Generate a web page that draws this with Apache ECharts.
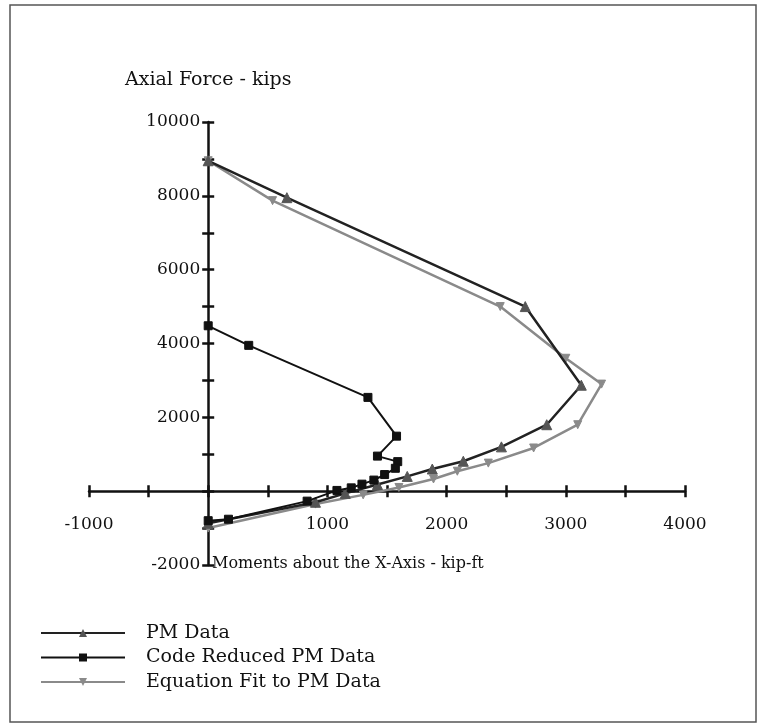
<!DOCTYPE html>
<html>
<head>
<meta charset="utf-8">
<title>PM Interaction</title>
<script src="https://cdn.jsdelivr.net/npm/echarts@6/dist/echarts.min.js"></script>
<style>
    html, body { margin: 0; padding: 0; background: #fff; }
    #chart { width: 770px; height: 728px; }
</style>
</head>
<body>
<div id="chart"></div>
<script>
    // moments (kip-ft) and axial force (kips)
    var pmMoment  = [0, 660, 2660, 3130, 2840, 2460, 2140, 1880, 1670, 1420, 1150, 900, 0];
    var pmAxial   = [8950, 7950, 5000, 2870, 1800, 1200, 810, 600, 400, 180, -60, -300, -870];

    var codeMoment = [0, 340, 1340, 1580, 1420, 1590, 1570, 1480, 1390, 1290, 1200, 1080, 830, 170, 0];
    var codeAxial  = [4480, 3950, 2540, 1490, 950, 800, 620, 450, 300, 190, 90, 20, -270, -760, -800];

    var fitMoment = [0, 540, 2450, 3000, 3300, 3100, 2730, 2350, 2090, 1890, 1600, 1300, 900, 0];
    var fitAxial  = [8950, 7870, 5000, 3600, 2900, 1800, 1170, 760, 540, 330, 100, -100, -350, -1000];

    var seriesNames = ['PM Data', 'Code Reduced PM Data', 'Equation Fit to PM Data'];

    function pairs(xs, ys) {
        return xs.map(function (x, i) { return [x, ys[i]]; });
    }

    var font = 'DejaVu Serif';

    // grid box, and where the zero lines fall inside it
    var gLeft = 89, gRight = 85, gTop = 122, gBottom = 163;
    var gW = 770 - gLeft - gRight, gH = 728 - gTop - gBottom;
    var zeroX = gLeft + gW * 1000 / 5000;      // x = 0
    var zeroY = gTop + gH * 10000 / 12000;     // y = 0

    var tickStyle = { color: '#111', width: 2.5 };

    var chart = echarts.init(document.getElementById('chart'));

    chart.setOption({
        animation: false,
        textStyle: { fontFamily: font },
        grid: { left: gLeft, right: gRight, top: gTop, bottom: gBottom },
        legend: {
            orient: 'vertical',
            left: 35,
            top: 618,
            itemWidth: 84,
            itemHeight: 10,
            itemGap: 4.5,
            data: seriesNames,
            textStyle: { fontFamily: font, fontSize: 19, lineHeight: 20, color: '#111', padding: [0, 0, 0, 16] }
        },
        xAxis: [{
            type: 'value',
            min: -1000,
            max: 4000,
            interval: 500,
            offset: -(728 - gBottom - zeroY),
            splitLine: { show: false },
            axisLine: { onZero: false, lineStyle: { color: '#111', width: 2.5 } },
            axisTick: { length: 6, lineStyle: tickStyle },
            axisLabel: {
                margin: 25,
                fontSize: 17,
                color: '#111',
                formatter: function (v) { return (v % 1000 !== 0 || v === 0) ? '' : v; }
            }
        }, {
            // second copy only for the upper half of the crossing ticks
            type: 'value',
            position: 'top',
            min: -1000,
            max: 4000,
            interval: 500,
            offset: -(zeroY - gTop),
            splitLine: { show: false },
            axisLine: { show: false, onZero: false },
            axisTick: { length: 6, lineStyle: tickStyle },
            axisLabel: { show: false }
        }],
        yAxis: [{
            type: 'value',
            min: -2000,
            max: 10000,
            interval: 1000,
            offset: -(zeroX - gLeft),
            name: 'Axial Force - kips',
            nameLocation: 'end',
            nameGap: 32,
            nameTextStyle: { fontFamily: font, fontSize: 19, color: '#111' },
            splitLine: { show: false },
            axisLine: { onZero: false, lineStyle: { color: '#111', width: 2.5 } },
            axisTick: { length: 6, lineStyle: tickStyle },
            axisLabel: {
                margin: 8,
                fontSize: 17,
                color: '#111',
                formatter: function (v) { return (v % 2000 !== 0 || v === 0) ? '' : v; }
            }
        }, {
            type: 'value',
            position: 'right',
            min: -2000,
            max: 10000,
            interval: 1000,
            offset: -(770 - gRight - zeroX),
            splitLine: { show: false },
            axisLine: { show: false, onZero: false },
            axisTick: { length: 6, lineStyle: tickStyle },
            axisLabel: { show: false }
        }],
        graphic: [{
            type: 'rect',
            shape: { x: 10, y: 5, width: 746, height: 717 },
            style: { fill: 'none', stroke: '#555', lineWidth: 1.5 },
            silent: true
        }, {
            type: 'text',
            left: 212,
            top: 556,
            style: { text: 'Moments about the X-Axis - kip-ft', font: '16px "DejaVu Serif"', fill: '#111' }
        }],
        series: [{
            name: seriesNames[0],
            type: 'line',
            data: pairs(pmMoment, pmAxial),
            symbol: 'triangle',
            symbolSize: 10,
            lineStyle: { color: '#222', width: 2.5 },
            itemStyle: { color: '#555', borderColor: '#555' },
            z: 3
        }, {
            name: seriesNames[1],
            type: 'line',
            data: pairs(codeMoment, codeAxial),
            symbol: 'rect',
            symbolSize: 8,
            lineStyle: { color: '#111', width: 2 },
            itemStyle: { color: '#111', borderColor: '#111' },
            z: 4
        }, {
            name: seriesNames[2],
            type: 'line',
            data: pairs(fitMoment, fitAxial),
            symbol: 'triangle',
            symbolSize: 8,
            symbolRotate: 180,
            lineStyle: { color: '#8a8a8a', width: 2.5 },
            itemStyle: { color: '#8a8a8a', borderColor: '#8a8a8a' },
            z: 2
        }]
    });
</script>
</body>
</html>
